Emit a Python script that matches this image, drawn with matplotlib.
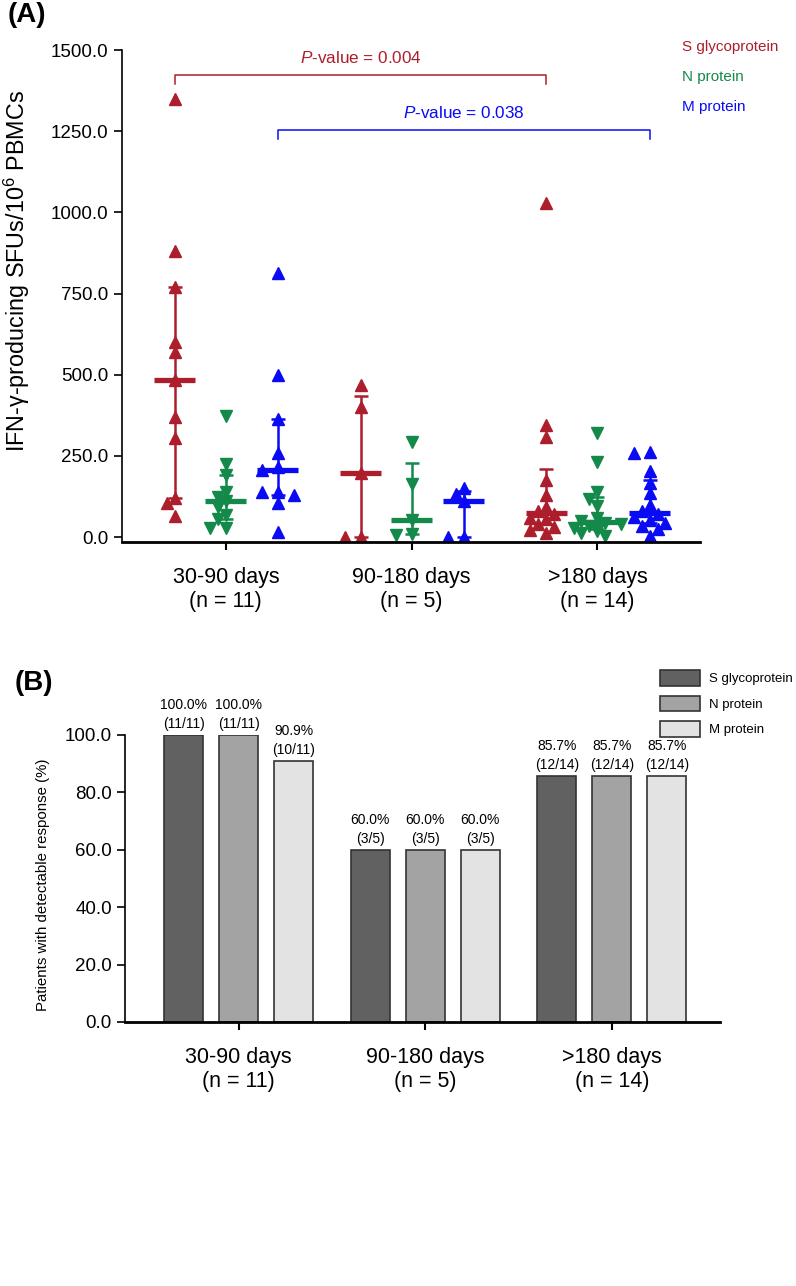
import matplotlib
matplotlib.use('Agg')
import matplotlib.pyplot as plt
import numpy as np
from matplotlib.ticker import FormatStrFormatter

plt.rcParams['font.family'] = ['Liberation Sans', 'DejaVu Sans']
plt.rcParams['mathtext.fontset'] = 'custom'
plt.rcParams['mathtext.rm'] = 'Liberation Sans'
plt.rcParams['mathtext.it'] = 'Liberation Sans:italic'

groups = ['30-90 days\n(n = 11)', '90-180 days\n(n = 5)', '>180 days\n(n = 14)']
proteins = ['S glycoprotein', 'N protein', 'M protein']

# panel A: SFUs/10^6 PBMCs per patient
s_protein = [
    [1350, 880, 770, 600, 570, 485, 370, 305, 120, 105, 65],
    [468, 401, 198, 0, 0],
    [1030, 345, 309, 176, 129, 93, 80, 70, 58, 55, 42, 31, 23, 12],
]
n_protein = [
    [373, 225, 190, 140, 124, 111, 93, 68, 55, 28, 28],
    [294, 165, 52, 11, 8],
    [320, 230, 140, 119, 95, 60, 50, 45, 40, 35, 28, 20, 12, 5],
]
m_protein = [
    [812, 499, 365, 258, 216, 206, 140, 140, 129, 104, 16],
    [150, 134, 111, 0, 0],
    [263, 258, 204, 167, 135, 99, 80, 70, 62, 52, 45, 35, 25, 5],
]

# panel B: responders / patients
responders = [[11, 11, 10], [3, 3, 3], [12, 12, 12]]
n_patients = [11, 5, 14]

p_values = ['0.004', '0.038']

colors_a = ['#ad1e2c', '#13894a', '#0a0af5']
markers_a = ['^', 'v', '^']
colors_b = ['#616161', '#a3a3a3', '#e3e3e3']


def swarm(vals, px_x, px_y, gap=9.0, step=8.0):
    # simple beeswarm: shift a point sideways while it overlaps another one
    placed = []
    for v in vals:
        y = v * px_y
        for k in range(30):
            dx = step * ((k + 1) // 2) * (1 if k % 2 == 0 else -1)
            if all((dx - px) ** 2 + (y - py) ** 2 >= gap ** 2 for px, py in placed):
                break
        placed.append((dx, y))
    return np.array([p[0] for p in placed]) / px_x


fig = plt.figure(figsize=(7.96, 12.86), dpi=100)

# ---------------- (A)
ax1 = fig.add_axes([0.153, 0.5785, 0.726, 0.3826])
x = np.arange(len(groups))
offs = [-0.275, 0.0, 0.28]
px_x = 186.0
px_y = 487.0 / 1500.0

for j, data in enumerate([s_protein, n_protein, m_protein]):
    for i, vals in enumerate(data):
        xc = x[i] + offs[j]
        vals = np.array(vals, dtype=float)
        jit = swarm(vals, px_x, px_y)
        ax1.plot(xc + jit, vals, ls='none', marker=markers_a[j], ms=8.5,
                 color=colors_a[j], mec=colors_a[j], zorder=2)
        med, q1, q3 = np.percentile(vals, [50, 25, 75], method='weibull')
        ax1.errorbar(xc, med, yerr=[[med - q1], [q3 - med]], color=colors_a[j],
                     lw=1.8, capsize=5, capthick=1.8, zorder=3)
        ax1.hlines(med, xc - 0.11, xc + 0.11, color=colors_a[j], lw=3.8, zorder=4)

# significance brackets
brackets = [(0, 2, 0, 1423, colors_a[0]), (0, 2, 2, 1253, colors_a[2])]
for (g1, g2, j, yb, c), pv in zip(brackets, p_values):
    x1 = x[g1] + offs[j]
    x2 = x[g2] + offs[j]
    ax1.plot([x1, x1, x2, x2], [yb - 28, yb, yb, yb - 28], color=c, lw=1.1)
    ax1.text((x1 + x2) / 2, yb + 28, r'$\mathit{P}$-value = ' + pv, color=c,
             ha='center', va='bottom', fontsize=12.3)

ax1.set_xlim(-0.56, 2.55)
ax1.set_ylim(-15, 1500)
ax1.set_yticks(np.arange(0, 1501, 250))
ax1.yaxis.set_major_formatter(FormatStrFormatter('%.1f'))
ax1.set_xticks(x)
ax1.set_xticklabels(groups, fontsize=15.5, linespacing=1.2)
ax1.tick_params(axis='y', labelsize=13.5, length=6, width=1.2)
ax1.tick_params(axis='x', length=6, width=1.5, pad=12)
ax1.spines['top'].set_visible(False)
ax1.spines['right'].set_visible(False)
ax1.spines['left'].set_linewidth(1.2)
ax1.spines['bottom'].set_linewidth(2)
ax1.set_ylabel('IFN-γ-producing SFUs/10$^{6}$ PBMCs', fontsize=16.8)
ax1.yaxis.set_label_coords(-0.156, 0.55)

for j, name in enumerate(proteins):
    fig.text(0.857, 0.9635 - j * 0.0235, name, color=colors_a[j], fontsize=11,
             va='center', ha='left')

fig.text(0.01, 0.988, '(A)', fontsize=20, fontweight='bold', va='center')

# ---------------- (B)
ax2 = fig.add_axes([0.157, 0.2053, 0.7475, 0.2232])
boffs = [-0.295, 0.0, 0.295]
bw = 0.209
for j in range(3):
    pct = [responders[i][j] / n_patients[i] * 100 for i in range(3)]
    bars = ax2.bar(x + boffs[j], pct, width=bw, color=colors_b[j],
                   edgecolor='#333333', lw=1.2, label=proteins[j])
    for i, b in enumerate(bars):
        ax2.annotate('%.1f%%\n(%d/%d)' % (pct[i], responders[i][j], n_patients[i]),
                     (b.get_x() + b.get_width() / 2, b.get_height()),
                     xytext=(0, 3), textcoords='offset points',
                     ha='center', va='bottom', fontsize=10, linespacing=1.4)

ax2.set_xlim(-0.61, 2.58)
ax2.set_ylim(0, 100)
ax2.set_yticks(np.arange(0, 101, 20))
ax2.yaxis.set_major_formatter(FormatStrFormatter('%.1f'))
ax2.set_xticks(x)
ax2.set_xticklabels(groups, fontsize=15.5, linespacing=1.2)
ax2.tick_params(axis='y', labelsize=13.5, length=6, width=1.2)
ax2.tick_params(axis='x', length=6, width=1.5, pad=12)
ax2.spines['top'].set_visible(False)
ax2.spines['right'].set_visible(False)
ax2.spines['left'].set_linewidth(1.2)
ax2.spines['bottom'].set_linewidth(2)
ax2.set_ylabel('Patients with detectable response (%)', fontsize=10.8)
ax2.yaxis.set_label_coords(-0.126, 0.477)

ax2.legend(loc='upper left', bbox_to_anchor=(660 / 796, 1 - 670 / 1286),
           bbox_transform=fig.transFigure, frameon=False, fontsize=9.5,
           handlelength=3.0, handleheight=1.45, labelspacing=0.75,
           handletextpad=0.75, borderpad=0, borderaxespad=0)

fig.text(0.018, 0.469, '(B)', fontsize=20, fontweight='bold', va='center')

fig.savefig('out.png', dpi=100)
